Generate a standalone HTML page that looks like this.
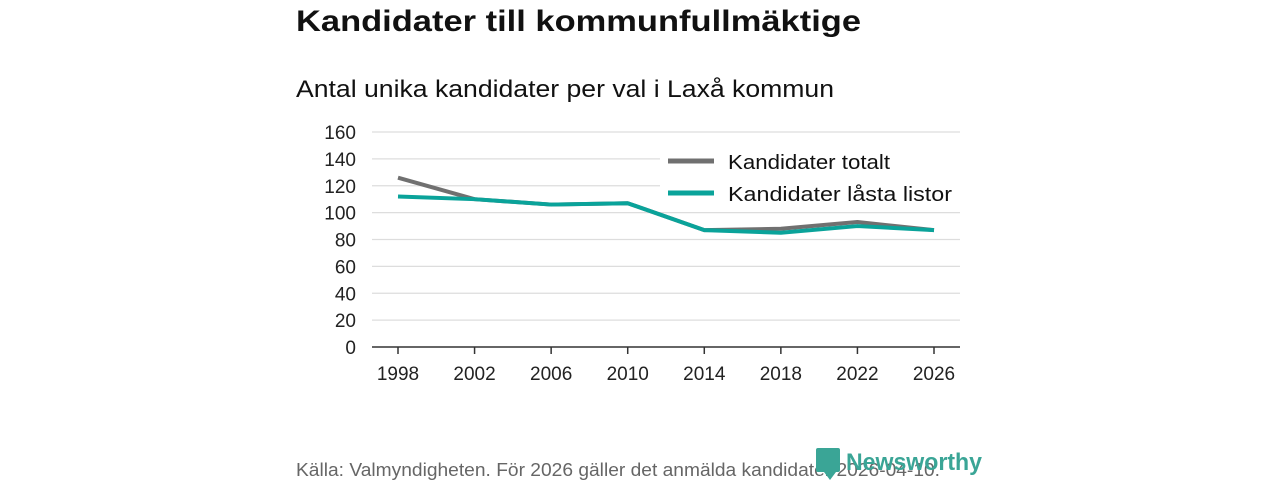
<!DOCTYPE html>
<html><head><meta charset="utf-8"><style>
body{margin:0;background:#fff;font-family:"Liberation Sans","DejaVu Sans",sans-serif;}
#wrap{position:relative;width:1280px;height:480px;overflow:hidden}
</style></head><body>
<div id="wrap">
<svg id="chart" width="1280" height="480">
<text x="296" y="31" font-size="30" font-weight="bold" fill="#111" textLength="565" lengthAdjust="spacingAndGlyphs">Kandidater till kommunfullmäktige</text>
<text x="296" y="97" font-size="24" fill="#111" textLength="538" lengthAdjust="spacingAndGlyphs">Antal unika kandidater per val i Laxå kommun</text>
<g id="grid"></g><g id="lines"></g>
<g>
<rect x="660" y="146" width="300" height="66" fill="#fff"/>
<line x1="668" y1="161" x2="714" y2="161" stroke="#707070" stroke-width="5"/>
<text x="728" y="169" font-size="20" fill="#111" textLength="162" lengthAdjust="spacingAndGlyphs">Kandidater totalt</text>
<line x1="668" y1="193" x2="714" y2="193" stroke="#0aa39a" stroke-width="5"/>
<text x="728" y="201" font-size="20" fill="#111" textLength="224" lengthAdjust="spacingAndGlyphs">Kandidater låsta listor</text>
</g>
<text x="296" y="476" font-size="18" fill="#666" textLength="644" lengthAdjust="spacingAndGlyphs">Källa: Valmyndigheten. För 2026 gäller det anmälda kandidater 2026-04-10.</text>
<g>
<rect x="816" y="448" width="24" height="24" rx="2" fill="#3aa596"/>
<path d="M824 472 L830 480 L836 472Z" fill="#3aa596"/>
<text x="846" y="470" font-size="24" font-weight="bold" fill="#3aa596" textLength="136" lengthAdjust="spacingAndGlyphs">Newsworthy</text>
</g>
</svg>
</div>
<script>
const years=[1998,2002,2006,2010,2014,2018,2022,2026];
const totalt=[126,110,106,107,87,88,93,87];
const lasta=[112,110,106,107,87,85,90,87];
const yTicks=[0,20,40,60,80,100,120,140,160];
const NS="http://www.w3.org/2000/svg";
const x=v=>398+(v-1998)*(934-398)/28;
const y=v=>347-v*(347-132)/160;
const grid=document.getElementById('grid'),lines=document.getElementById('lines');
function mk(t,a,p){const e=document.createElementNS(NS,t);for(const k in a)e.setAttribute(k,a[k]);p.appendChild(e);return e;}
yTicks.forEach(t=>{
 if(t>0){const l=mk('line',{x1:372,x2:960,y1:y(t),y2:y(t),stroke:'#ddd','stroke-width':1.2},grid);
 
 }
 const tx=mk('text',{x:356,y:y(t)+7,'font-size':19,fill:'#222','text-anchor':'end'},grid);tx.textContent=t;
 
 
});
const ax=mk('line',{x1:372,x2:960,y1:347,y2:347,stroke:'#333','stroke-width':1.5},grid);


years.forEach(yr=>{
 mk('line',{x1:x(yr),x2:x(yr),y1:347,y2:354,stroke:'#333','stroke-width':1.5},grid);
 const tx=mk('text',{x:x(yr),y:380,'font-size':19,fill:'#222','text-anchor':'middle'},grid);tx.textContent=yr;
 
 
});
function line(vals,col,name){
 const p=mk('polyline',{points:vals.map((v,i)=>x(years[i])+','+y(v)).join(' '),fill:'none',stroke:col,'stroke-width':4,'stroke-linejoin':'round'},lines);
 
 
}
line(totalt,'#707070','line-totalt');
line(lasta,'#0aa39a','line-lasta-listor');
</script>
</body></html>
